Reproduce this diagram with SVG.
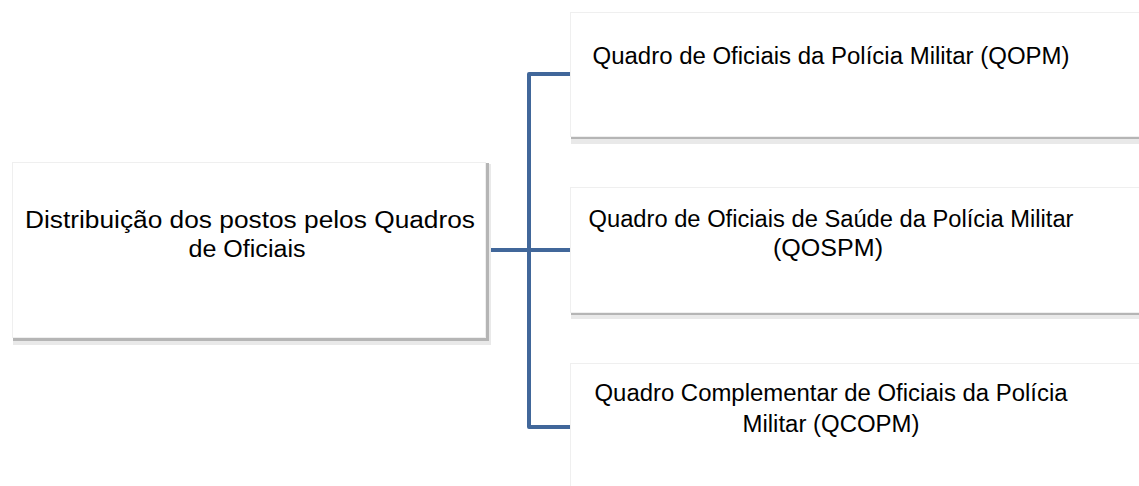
<svg xmlns="http://www.w3.org/2000/svg" width="1139" height="486" viewBox="0 0 1139 486">
<style>
.sh1{fill:#e9e9e9}
.sh2{fill:#b5b5b5}
.box{fill:#ffffff;stroke:#efefef;stroke-width:1}
.t{font-family:"Liberation Sans",Arial,sans-serif;font-size:23.5px;fill:#000;text-anchor:middle}
.c{fill:none;stroke:#41679A;stroke-width:4;stroke-linejoin:round;stroke-linecap:butt}
</style>
<rect width="1139" height="486" fill="#ffffff"/>
<g id="connectors">
<path class="c" d="M487,250 H570"/>
<path class="c" d="M570,74 H529 V427 H570"/>
</g>
<g id="root">
<rect class="sh1" x="13" y="164" width="478" height="181"/>
<rect class="sh2" x="13" y="163" width="476" height="178"/>
<rect class="box" x="12.5" y="162.5" width="473" height="175"/>
<text class="t" x="250" y="228" textLength="450" lengthAdjust="spacingAndGlyphs">Distribuição dos postos pelos Quadros</text>
<text class="t" x="247" y="257" textLength="117" lengthAdjust="spacingAndGlyphs">de Oficiais</text>
</g>
<g id="qopm">
<rect class="sh1" x="571" y="14" width="570" height="130"/>
<rect class="sh2" x="571" y="13" width="570" height="126"/>
<rect class="box" x="570.5" y="12.5" width="572" height="124"/>
<text class="t" x="831" y="64" textLength="477" lengthAdjust="spacingAndGlyphs">Quadro de Oficiais da Polícia Militar (QOPM)</text>
</g>
<g id="qospm">
<rect class="sh1" x="571" y="189" width="570" height="130"/>
<rect class="sh2" x="571" y="188" width="570" height="127"/>
<rect class="box" x="570.5" y="187.5" width="572" height="125"/>
<text class="t" x="831" y="227" textLength="485" lengthAdjust="spacingAndGlyphs">Quadro de Oficiais de Saúde da Polícia Militar</text>
<text class="t" x="828" y="256" textLength="110" lengthAdjust="spacingAndGlyphs">(QOSPM)</text>
</g>
<g id="qcopm">
<rect class="sh2" x="571" y="364" width="570" height="130"/>
<rect class="box" x="570.5" y="363.5" width="572" height="130"/>
<text class="t" x="831" y="401" textLength="473" lengthAdjust="spacingAndGlyphs">Quadro Complementar de Oficiais da Polícia</text>
<text class="t" x="831" y="432" textLength="177" lengthAdjust="spacingAndGlyphs">Militar (QCOPM)</text>
</g>
</svg>
